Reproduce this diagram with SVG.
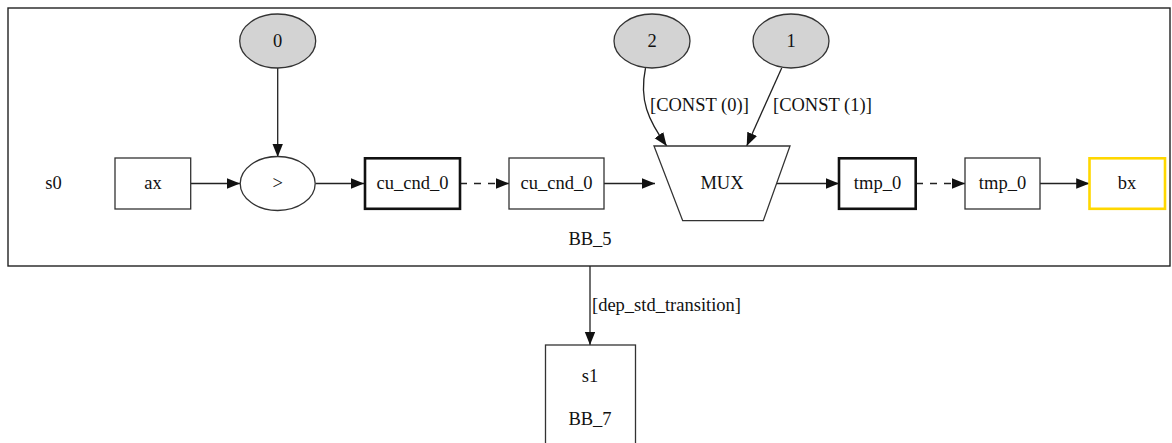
<svg xmlns="http://www.w3.org/2000/svg" width="1172" height="443" viewBox="0 0 1172 443">
  <style>
    text { font-family: "Liberation Serif", "Times New Roman", serif; font-size: 18.5px; fill: #111; }
    .mid { text-anchor: middle; }
    .box { fill: #fff; stroke: #333; stroke-width: 1.3; }
    .bold { fill: #fff; stroke: #111; stroke-width: 2.6; }
    .gold { fill: #fff; stroke: #ffd700; stroke-width: 2.6; }
    .const { fill: #d3d3d3; stroke: #333; stroke-width: 1.3; }
    .edge { fill: none; stroke: #222; stroke-width: 1.3; }
    .dash { stroke-dasharray: 7 7; }
  </style>
  <defs>
    <marker id="arrow" markerUnits="userSpaceOnUse" markerWidth="14" markerHeight="12" refX="13.3" refY="5.3" orient="auto">
      <path d="M0,0 L13.3,5.3 L0,10.6 Z" fill="#111"/>
    </marker>
  </defs>

  <!-- cluster s0 / BB_5 -->
  <g id="cluster_s0">
    <rect x="8" y="8" width="1162" height="258" fill="#fff" stroke="#222" stroke-width="1.4"/>
    <text class="mid" x="53.5" y="189">s0</text>
    <text class="mid" x="590" y="245">BB_5</text>
  </g>

  <!-- connectors -->
  <g id="edges">
    <path class="edge" d="M277.7,68 L277.7,157" marker-end="url(#arrow)"/>
    <path class="edge" d="M190.7,183.5 L240,183.5" marker-end="url(#arrow)"/>
    <path class="edge" d="M315.5,183.5 L364,183.5" marker-end="url(#arrow)"/>
    <path class="edge dash" d="M460,183.5 L509,183.5" marker-end="url(#arrow)"/>
    <path class="edge" d="M604,183.5 L655,183.5" marker-end="url(#arrow)"/>
    <path class="edge" d="M645.5,68 C639,100 648,120 666.7,146" marker-end="url(#arrow)"/>
    <path class="edge" d="M781.7,68 L746.7,146" marker-end="url(#arrow)"/>
    <path class="edge" d="M776,183.5 L839,183.5" marker-end="url(#arrow)"/>
    <path class="edge dash" d="M916,183.5 L965,183.5" marker-end="url(#arrow)"/>
    <path class="edge" d="M1040,183.5 L1089.5,183.5" marker-end="url(#arrow)"/>
    <path class="edge" d="M590,266 L590,345" marker-end="url(#arrow)"/>
    <text x="650" y="111">[CONST (0)]</text>
    <text x="773" y="111">[CONST (1)]</text>
    <text x="592" y="311">[dep_std_transition]</text>
  </g>

  <g id="n_const0">
    <ellipse class="const" cx="277.7" cy="41" rx="38" ry="27"/>
    <text class="mid" x="277.7" y="47">0</text>
  </g>
  <g id="n_const2">
    <ellipse class="const" cx="652" cy="41" rx="38" ry="27"/>
    <text class="mid" x="652" y="47">2</text>
  </g>
  <g id="n_const1">
    <ellipse class="const" cx="791" cy="41" rx="38" ry="27"/>
    <text class="mid" x="791" y="47">1</text>
  </g>
  <g id="n_ax">
    <rect class="box" x="115" y="158" width="75.7" height="51"/>
    <text class="mid" x="153" y="189">ax</text>
  </g>
  <g id="n_gt">
    <ellipse class="box" cx="277.7" cy="183.5" rx="37.5" ry="27"/>
    <text class="mid" x="277.7" y="189">&gt;</text>
  </g>
  <g id="n_cu_cnd_0_a">
    <rect class="bold" x="365" y="158.3" width="95" height="50.5"/>
    <text class="mid" x="412.5" y="189">cu_cnd_0</text>
  </g>
  <g id="n_cu_cnd_0_b">
    <rect class="box" x="509" y="158" width="95" height="51"/>
    <text class="mid" x="556.5" y="189">cu_cnd_0</text>
  </g>
  <g id="n_mux">
    <polygon class="box" points="654,146 790,146 763.3,220.7 682.7,220.7"/>
    <text class="mid" x="722" y="189">MUX</text>
  </g>
  <g id="n_tmp_0_a">
    <rect class="bold" x="839" y="158.3" width="76.7" height="50.5"/>
    <text class="mid" x="877.5" y="189">tmp_0</text>
  </g>
  <g id="n_tmp_0_b">
    <rect class="box" x="965" y="158" width="75" height="51"/>
    <text class="mid" x="1002.5" y="189">tmp_0</text>
  </g>
  <g id="n_bx">
    <rect class="gold" x="1089.5" y="158.3" width="75.5" height="50.5"/>
    <text class="mid" x="1127" y="189">bx</text>
  </g>

  <!-- block s1 / BB_7 -->
  <g id="n_s1">
    <rect class="box" x="545.5" y="345" width="90" height="110"/>
    <text class="mid" x="590" y="381.5">s1</text>
    <text class="mid" x="590" y="425">BB_7</text>
  </g>
</svg>
